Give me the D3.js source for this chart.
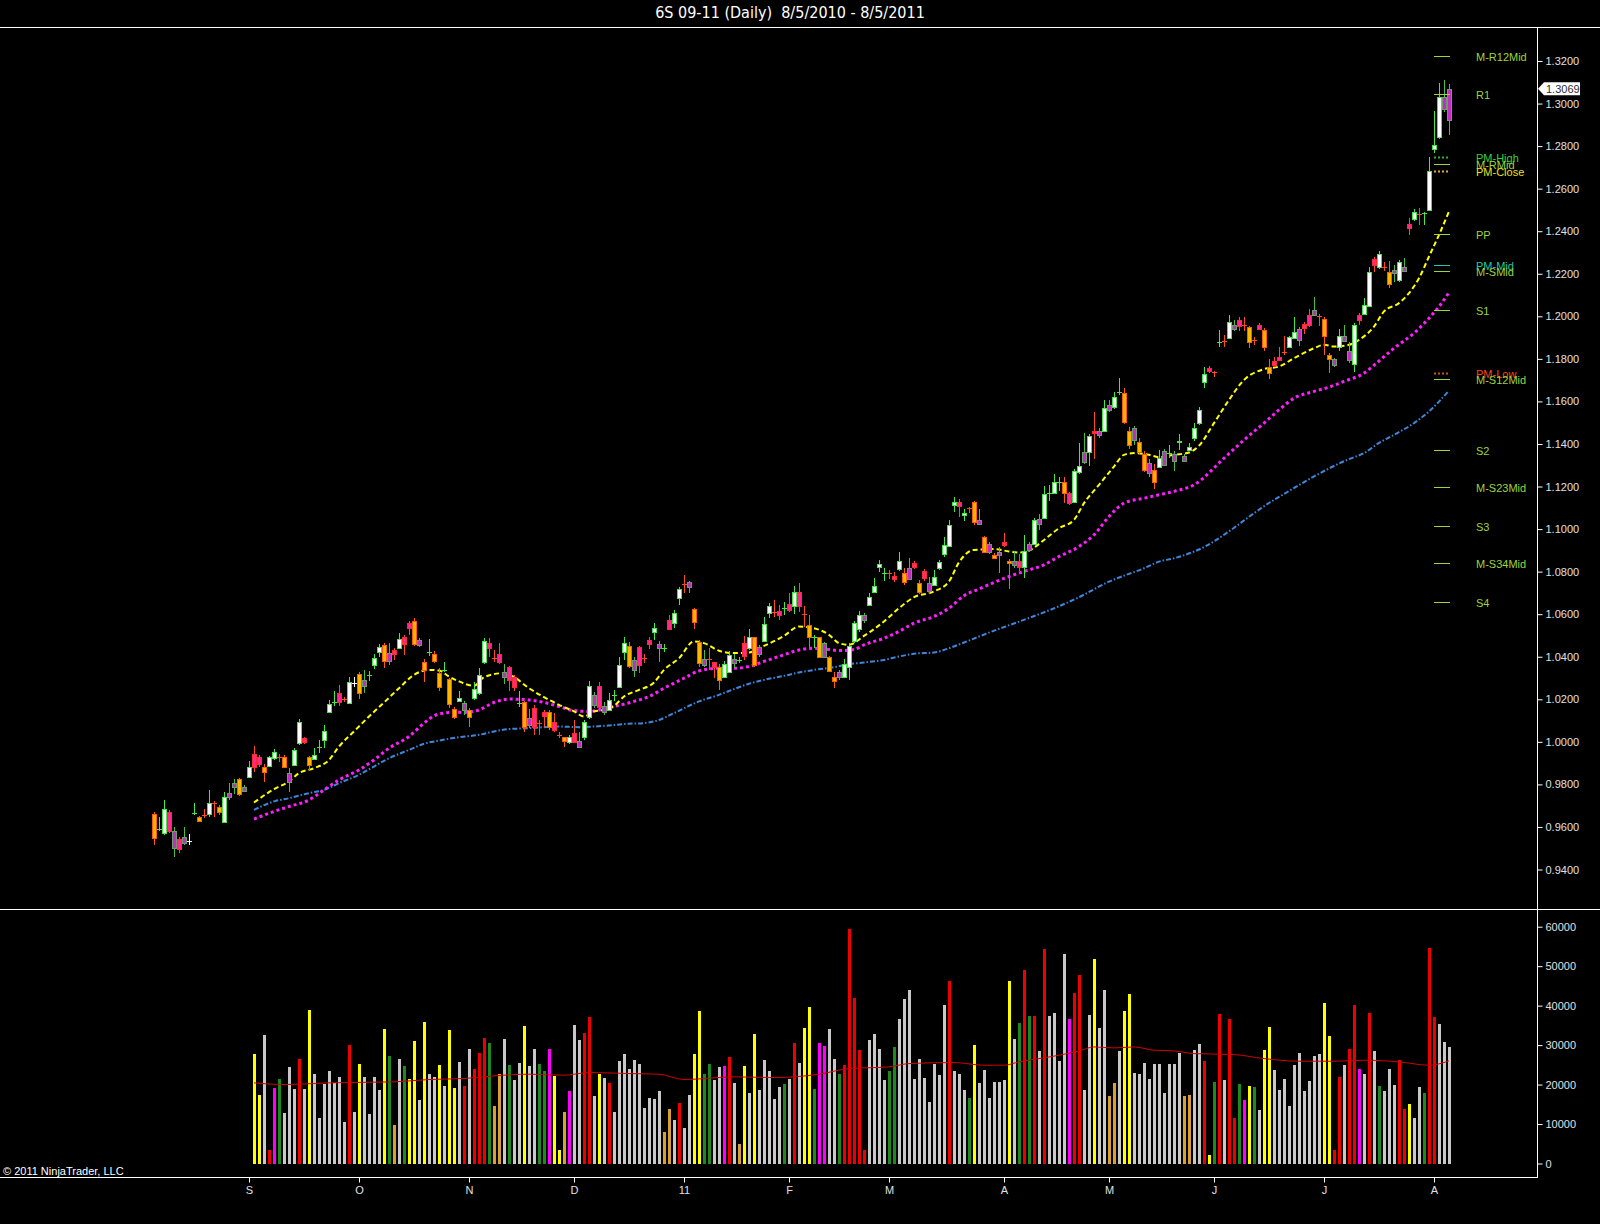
<!DOCTYPE html>
<html>
<head>
<meta charset="utf-8">
<title>6S 09-11 (Daily)</title>
<script src="https://cdn.jsdelivr.net/npm/d3@7"></script>
<style>
html, body { margin: 0; padding: 0; background: #000; }
svg { display: block; }
text { font-family: "Liberation Sans", Arial, sans-serif; }
</style>
</head>
<body>
<div id="viz"></div>
<script>
// ---- price bars (daily, 8/5/2010 .. 8/5/2011) ----
// kind: W up, O down, P pink, M magenta, G/R/X doji
var candleKind = [
  "OGWPMPMXGO", "RWROWMMOMW", "PPOWWROMWW", "POWGWWGPRW", "XOMGWWOMPW",
  "PPOMOGOOGO", "OWMOWWWPRP", "MPPGOMPRPO", "PROWPMWWMP", "MWGWWOMPRP",
  "WMGPWWRMOO", "MRPOWWMGPW", "OMWWRPGPWP", "ROGOMOOMWW", "WWMWWWGRPW",
  "OMPOPMWWWW", "WPWROMOMOM", "POMPWMWMWG", "WGOPWWMWPM", "WMWGOOMOOM",
  "OWMGMWMWWW", "WPRGRWMPRO", "RPOOPPRWWM", "PPMROOMWMM", "WPWWPWROMW",
  "MPWRGWWWMM"
].join("").split("");

var opens = [
  0.9660, 0.9590, 0.9571, 0.9670, 0.9501, 0.9543, 0.9524, 0.9534, 0.9665, 0.9646,
  0.9654, 0.9660, 0.9713, 0.9696, 0.9625, 0.9743, 0.9787, 0.9825, 0.9771, 0.9837,
  0.9944, 0.9931, 0.9881, 0.9887, 0.9923, 0.9928, 0.9931, 0.9813, 0.9890, 0.9994,
  1.0017, 0.9928, 0.9920, 0.9978, 1.0009, 1.0142, 1.0185, 1.0229, 1.0202, 1.0182,
  1.0276, 1.0318, 1.0263, 1.0312, 1.0362, 1.0420, 1.0456, 1.0378, 1.0432, 1.0443,
  1.0492, 1.0558, 1.0570, 1.0456, 1.0373, 1.0420, 1.0414, 1.0323, 1.0338, 1.0295,
  1.0154, 1.0191, 1.0149, 1.0149, 1.0205, 1.0229, 1.0374, 1.0464, 1.0396, 1.0412,
  1.0304, 1.0351, 1.0304, 1.0182, 1.0185, 1.0077, 1.0158, 1.0088, 1.0138, 1.0138,
  1.0093, 1.0030, 1.0022, 0.9997, 1.0041, 0.9978, 1.0025, 1.0116, 1.0174, 1.0263,
  1.0142, 1.0150, 1.0221, 1.0257, 1.0424, 1.0451, 1.0338, 1.0445, 1.0393, 1.0479,
  1.0518, 1.0443, 1.0443, 1.0573, 1.0558, 1.0675, 1.0743, 1.0730, 1.0624, 1.0467,
  1.0362, 1.0388, 1.0373, 1.0354, 1.0304, 1.0326, 1.0370, 1.0385, 1.0464, 1.0440,
  1.0492, 1.0414, 1.0476, 1.0605, 1.0612, 1.0615, 1.0630, 1.0649, 1.0637, 1.0706,
  1.0603, 1.0550, 1.0495, 1.0492, 1.0398, 1.0398, 1.0304, 1.0304, 1.0307, 1.0351,
  1.0476, 1.0530, 1.0574, 1.0644, 1.0706, 1.0824, 1.0793, 1.0793, 1.0781, 1.0812,
  1.0793, 1.0765, 1.0840, 1.0746, 1.0805, 1.0709, 1.0739, 1.0816, 1.0884, 1.0921,
  1.1114, 1.1125, 1.1066, 1.1097, 1.1125, 1.1025, 1.0962, 1.0894, 1.0879, 1.0877,
  1.0941, 1.0851, 1.0832, 1.0848, 1.0824, 1.0902, 1.0930, 1.1023, 1.1051, 1.1169,
  1.1171, 1.1219, 1.1219, 1.1171, 1.1128, 1.1266, 1.1313, 1.1360, 1.1463, 1.1443,
  1.1459, 1.1560, 1.1573, 1.1643, 1.1638, 1.1463, 1.1419, 1.1411, 1.1354, 1.1263,
  1.1278, 1.1291, 1.1302, 1.1357, 1.1318, 1.1409, 1.1318, 1.1373, 1.1427, 1.1498,
  1.1689, 1.1756, 1.1737, 1.1879, 1.1886, 1.1897, 1.1940, 1.1983, 1.1960, 1.1952,
  1.1889, 1.1960, 1.1936, 1.1761, 1.1792, 1.1811, 1.1830, 1.1855, 1.1897, 1.1889,
  1.1965, 1.2007, 1.2007, 1.2003, 1.1987, 1.1819, 1.1771, 1.1858, 1.1886, 1.1795,
  1.1777, 1.2007, 1.2012, 1.2050, 1.2269, 1.2231, 1.2231, 1.2206, 1.2203, 1.2171,
  1.2215, 1.2433, 1.2457, 1.2480, 1.2484, 1.2500, 1.2786, 1.2842, 1.2974, 1.2924
];

var highs = [
  0.9672, 0.9649, 0.9727, 0.9680, 0.9602, 0.9555, 0.9602, 0.9565, 0.9713, 0.9650,
  0.9683, 0.9775, 0.9724, 0.9704, 0.9763, 0.9806, 0.9825, 0.9830, 0.9798, 0.9908,
  0.9981, 0.9939, 0.9895, 0.9934, 0.9965, 0.9944, 0.9939, 0.9876, 0.9970, 1.0107,
  1.0025, 0.9934, 0.9973, 1.0009, 1.0080, 1.0197, 1.0240, 1.0266, 1.0213, 1.0307,
  1.0304, 1.0328, 1.0338, 1.0335, 1.0414, 1.0461, 1.0464, 1.0464, 1.0440, 1.0511,
  1.0503, 1.0566, 1.0581, 1.0487, 1.0389, 1.0483, 1.0425, 1.0346, 1.0373, 1.0299,
  1.0166, 1.0238, 1.0191, 1.0160, 1.0279, 1.0346, 1.0487, 1.0487, 1.0432, 1.0464,
  1.0366, 1.0357, 1.0315, 1.0237, 1.0190, 1.0154, 1.0174, 1.0103, 1.0150, 1.0150,
  1.0135, 1.0048, 1.0025, 1.0033, 1.0103, 1.0048, 1.0103, 1.0288, 1.0232, 1.0279,
  1.0185, 1.0229, 1.0245, 1.0398, 1.0495, 1.0471, 1.0401, 1.0451, 1.0414, 1.0492,
  1.0558, 1.0474, 1.0459, 1.0597, 1.0621, 1.0730, 1.0785, 1.0758, 1.0628, 1.0479,
  1.0432, 1.0440, 1.0377, 1.0366, 1.0378, 1.0425, 1.0412, 1.0401, 1.0498, 1.0530,
  1.0495, 1.0456, 1.0589, 1.0652, 1.0667, 1.0643, 1.0659, 1.0699, 1.0733, 1.0745,
  1.0637, 1.0595, 1.0503, 1.0495, 1.0467, 1.0404, 1.0329, 1.0338, 1.0389, 1.0464,
  1.0566, 1.0617, 1.0605, 1.0699, 1.0769, 1.0855, 1.0815, 1.0808, 1.0796, 1.0890,
  1.0815, 1.0862, 1.0848, 1.0762, 1.0812, 1.0774, 1.0808, 1.0855, 1.0965, 1.1043,
  1.1150, 1.1142, 1.1094, 1.1106, 1.1130, 1.1094, 1.0968, 1.0941, 1.0887, 1.0915,
  1.0980, 1.0859, 1.0899, 1.0884, 1.0973, 1.0941, 1.1051, 1.1072, 1.1203, 1.1207,
  1.1260, 1.1247, 1.1247, 1.1176, 1.1281, 1.1404, 1.1451, 1.1448, 1.1552, 1.1474,
  1.1607, 1.1607, 1.1646, 1.1709, 1.1662, 1.1482, 1.1485, 1.1427, 1.1369, 1.1329,
  1.1307, 1.1373, 1.1376, 1.1396, 1.1365, 1.1448, 1.1351, 1.1404, 1.1497, 1.1576,
  1.1764, 1.1767, 1.1745, 1.1936, 1.1911, 1.2007, 1.1981, 1.1996, 1.1996, 1.1955,
  1.1905, 1.1967, 1.1945, 1.1798, 1.1811, 1.1858, 1.1908, 1.1908, 1.1999, 1.1952,
  1.1971, 1.2034, 1.2093, 1.2012, 1.1999, 1.1827, 1.1806, 1.1939, 1.1960, 1.1881,
  1.1967, 1.2015, 1.2085, 1.2231, 1.2281, 1.2309, 1.2253, 1.2258, 1.2242, 1.2265,
  1.2273, 1.2461, 1.2503, 1.2508, 1.2492, 1.2748, 1.2965, 1.3096, 1.3111, 1.3093
];

var lows = [
  0.9516, 0.9579, 0.9563, 0.9571, 0.9461, 0.9477, 0.9516, 0.9516, 0.9656, 0.9624,
  0.9643, 0.9649, 0.9649, 0.9657, 0.9621, 0.9727, 0.9757, 0.9745, 0.9767, 0.9834,
  0.9860, 0.9884, 0.9809, 0.9884, 0.9915, 0.9903, 0.9876, 0.9766, 0.9886, 0.9986,
  0.9991, 0.9868, 0.9915, 0.9947, 0.9970, 1.0138, 1.0170, 1.0170, 1.0185, 1.0179,
  1.0260, 1.0201, 1.0229, 1.0284, 1.0341, 1.0398, 1.0346, 1.0362, 1.0387, 1.0436,
  1.0408, 1.0503, 1.0451, 1.0448, 1.0283, 1.0404, 1.0370, 1.0237, 1.0326, 1.0159,
  1.0107, 1.0186, 1.0127, 1.0072, 1.0197, 1.0221, 1.0366, 1.0401, 1.0373, 1.0366,
  1.0273, 1.0241, 1.0241, 1.0166, 1.0048, 1.0064, 1.0033, 1.0033, 1.0072, 1.0056,
  1.0048, 1.0017, 0.9978, 0.9991, 0.9994, 0.9970, 1.0009, 1.0107, 1.0158, 1.0150,
  1.0127, 1.0146, 1.0190, 1.0252, 1.0387, 1.0346, 1.0307, 1.0322, 1.0370, 1.0436,
  1.0479, 1.0373, 1.0420, 1.0524, 1.0534, 1.0644, 1.0700, 1.0700, 1.0530, 1.0351,
  1.0354, 1.0338, 1.0299, 1.0244, 1.0299, 1.0323, 1.0347, 1.0370, 1.0385, 1.0432,
  1.0354, 1.0401, 1.0471, 1.0582, 1.0589, 1.0573, 1.0597, 1.0612, 1.0603, 1.0612,
  1.0542, 1.0448, 1.0440, 1.0393, 1.0393, 1.0326, 1.0252, 1.0291, 1.0302, 1.0291,
  1.0464, 1.0518, 1.0558, 1.0639, 1.0699, 1.0800, 1.0754, 1.0764, 1.0750, 1.0805,
  1.0738, 1.0759, 1.0812, 1.0695, 1.0754, 1.0695, 1.0735, 1.0808, 1.0871, 1.0918,
  1.1082, 1.1056, 1.1036, 1.1075, 1.1020, 1.1020, 1.0887, 1.0881, 1.0858, 1.0793,
  1.0918, 1.0718, 1.0816, 1.0801, 1.0769, 1.0894, 1.0926, 1.0994, 1.1047, 1.1130,
  1.1167, 1.1177, 1.1122, 1.1113, 1.1124, 1.1260, 1.1307, 1.1297, 1.1329, 1.1428,
  1.1454, 1.1552, 1.1564, 1.1631, 1.1496, 1.1376, 1.1396, 1.1354, 1.1266, 1.1244,
  1.1188, 1.1286, 1.1297, 1.1335, 1.1271, 1.1373, 1.1313, 1.1369, 1.1412, 1.1490,
  1.1662, 1.1733, 1.1717, 1.1858, 1.1858, 1.1893, 1.1929, 1.1929, 1.1932, 1.1850,
  1.1866, 1.1934, 1.1835, 1.1705, 1.1761, 1.1788, 1.1819, 1.1850, 1.1893, 1.1861,
  1.1917, 1.1952, 1.2003, 1.1955, 1.1819, 1.1733, 1.1764, 1.1835, 1.1877, 1.1780,
  1.1740, 1.1960, 1.2007, 1.2044, 1.2206, 1.2221, 1.2215, 1.2133, 1.2163, 1.2163,
  1.2210, 1.2383, 1.2446, 1.2430, 1.2430, 1.2497, 1.2768, 1.2833, 1.2959, 1.2853
];

var closes = [
  0.9547, 0.9590, 0.9684, 0.9579, 0.9579, 0.9496, 0.9555, 0.9534, 0.9665, 0.9630,
  0.9654, 0.9712, 0.9713, 0.9672, 0.9740, 0.9759, 0.9806, 0.9757, 0.9787, 0.9884,
  0.9884, 0.9897, 0.9860, 0.9928, 0.9950, 0.9928, 0.9884, 0.9853, 0.9962, 1.0093,
  0.9997, 0.9890, 0.9939, 0.9978, 1.0053, 1.0177, 1.0185, 1.0185, 1.0202, 1.0279,
  1.0276, 1.0229, 1.0291, 1.0312, 1.0393, 1.0445, 1.0382, 1.0417, 1.0414, 1.0483,
  1.0459, 1.0534, 1.0461, 1.0479, 1.0338, 1.0420, 1.0382, 1.0257, 1.0338, 1.0179,
  1.0119, 1.0207, 1.0183, 1.0117, 1.0248, 1.0315, 1.0475, 1.0440, 1.0396, 1.0373,
  1.0328, 1.0291, 1.0260, 1.0182, 1.0072, 1.0114, 1.0069, 1.0088, 1.0122, 1.0069,
  1.0056, 1.0030, 1.0006, 1.0025, 0.9997, 1.0002, 1.0093, 1.0263, 1.0221, 1.0163,
  1.0169, 1.0197, 1.0221, 1.0362, 1.0464, 1.0357, 1.0385, 1.0362, 1.0393, 1.0461,
  1.0534, 1.0459, 1.0443, 1.0530, 1.0605, 1.0719, 1.0743, 1.0751, 1.0561, 1.0370,
  1.0388, 1.0388, 1.0354, 1.0291, 1.0367, 1.0409, 1.0389, 1.0385, 1.0404, 1.0495,
  1.0362, 1.0448, 1.0555, 1.0639, 1.0612, 1.0597, 1.0630, 1.0621, 1.0706, 1.0637,
  1.0603, 1.0492, 1.0495, 1.0401, 1.0464, 1.0335, 1.0288, 1.0326, 1.0365, 1.0451,
  1.0558, 1.0597, 1.0597, 1.0683, 1.0733, 1.0835, 1.0793, 1.0793, 1.0765, 1.0851,
  1.0749, 1.0815, 1.0821, 1.0706, 1.0770, 1.0746, 1.0777, 1.0847, 1.0926, 1.1020,
  1.1125, 1.1110, 1.1075, 1.1097, 1.1031, 1.1043, 1.0894, 1.0929, 1.0863, 1.0893,
  1.0926, 1.0841, 1.0851, 1.0821, 1.0899, 1.0929, 1.1043, 1.1047, 1.1166, 1.1169,
  1.1219, 1.1219, 1.1169, 1.1124, 1.1275, 1.1297, 1.1360, 1.1438, 1.1451, 1.1463,
  1.1568, 1.1583, 1.1623, 1.1643, 1.1501, 1.1396, 1.1474, 1.1360, 1.1278, 1.1310,
  1.1223, 1.1333, 1.1369, 1.1357, 1.1354, 1.1416, 1.1343, 1.1385, 1.1474, 1.1560,
  1.1730, 1.1741, 1.1737, 1.1879, 1.1886, 1.1971, 1.1960, 1.1955, 1.1960, 1.1881,
  1.1889, 1.1940, 1.1855, 1.1733, 1.1771, 1.1795, 1.1830, 1.1905, 1.1928, 1.1940,
  1.1945, 1.1960, 1.2031, 1.2003, 1.1908, 1.1798, 1.1798, 1.1908, 1.1908, 1.1839,
  1.1960, 1.1983, 1.2054, 1.2206, 1.2242, 1.2294, 1.2231, 1.2153, 1.2218, 1.2257,
  1.2231, 1.2414, 1.2492, 1.2480, 1.2484, 1.2685, 1.2803, 1.3033, 1.3030, 1.3069
];

// ---- moving averages (bar index, value) ----
var fastMaBars = [20,24,27,29,32,35,37,40,43,46,49,52,55,57,59,61,64,66,70,72,75,78,81,84,86,88,90,92,94,97,
  100,102,105,108,110,113,116,119,122,126,129,132,135,137,139,142,146,149,152,156,159,161,164,168,171,173,175,178,181,184,
  186,189,192,194,196,199,201,204,207,209,212,215,218,222,225,228,232,234,236,239,241,244,246,249,251,253,255,257,259];
var fastMa = [0.9715,0.9778,0.9814,0.9853,0.9876,0.9915,0.9978,1.0049,1.0119,1.0185,1.0252,1.0315,1.0338,1.0335,1.0307,1.0284,1.0263,1.0304,1.0323,1.0304,
  1.0252,1.0210,1.0174,1.0143,1.0119,1.0143,1.0150,1.0169,1.0213,1.0244,1.0279,1.0338,1.0393,1.0472,1.0464,1.0428,1.0417,1.0420,1.0451,1.0498,
  1.0542,1.0534,1.0503,1.0464,1.0456,1.0498,1.0566,1.0628,1.0680,1.0707,1.0754,1.0844,1.0902,1.0906,1.0895,1.0890,1.0899,1.0949,1.1004,1.1043,
  1.1122,1.1208,1.1294,1.1349,1.1357,1.1349,1.1338,1.1349,1.1360,1.1392,1.1498,1.1607,1.1701,1.1752,1.1764,1.1803,1.1850,1.1866,1.1858,1.1866,
  1.1889,1.1952,1.2023,1.2062,1.2109,1.2179,1.2281,1.2383,1.2493];

var midMaBars = [20,24,27,31,34,37,41,44,47,51,54,56,58,60,62,65,68,71,75,78,81,84,87,89,92,96,99,102,106,109,
  113,116,119,122,126,129,132,135,137,140,142,146,149,152,156,159,162,165,168,171,174,178,181,185,188,191,194,198,201,204,
  208,214,218,222,225,228,232,235,238,242,245,248,252,255,257,259];
var midMa = [0.9637,0.9673,0.9696,0.9727,0.9774,0.9821,0.9868,0.9915,0.9970,1.0025,1.0088,1.0122,1.0135,1.0139,1.0138,1.0150,1.0185,1.0201,1.0197,1.0185,
  1.0166,1.0147,1.0143,1.0150,1.0166,1.0190,1.0213,1.0252,1.0299,1.0333,1.0346,1.0346,1.0354,1.0378,1.0409,1.0432,1.0440,1.0434,1.0429,1.0434,
  1.0456,1.0487,1.0519,1.0558,1.0589,1.0628,1.0687,1.0718,1.0749,1.0777,1.0801,1.0832,1.0871,1.0918,1.0973,1.1059,1.1122,1.1145,1.1161,1.1177,
  1.1208,1.1333,1.1419,1.1498,1.1560,1.1615,1.1647,1.1667,1.1694,1.1733,1.1790,1.1850,1.1921,1.1991,1.2046,1.2112];

var slowMaBars = [20,24,27,31,34,37,41,44,47,51,54,57,61,65,68,71,75,78,81,85,88,91,95,98,101,104,109,113,116,119,
  122,126,129,132,136,139,142,146,149,152,156,159,162,165,185,191,198,201,204,208,224,239,242,245,248,252,255,259];
var slowMa = [0.9680,0.9720,0.9735,0.9759,0.9774,0.9806,0.9845,0.9884,0.9923,0.9962,0.9991,1.0006,1.0022,1.0033,1.0049,1.0060,1.0064,1.0069,1.0072,1.0069,
  1.0072,1.0077,1.0085,1.0088,1.0103,1.0135,1.0190,1.0221,1.0248,1.0273,1.0291,1.0310,1.0326,1.0338,1.0351,1.0365,1.0373,1.0385,1.0401,1.0414,
  1.0420,1.0440,1.0467,1.0495,1.0680,1.0753,1.0816,1.0847,1.0863,1.0894,1.1137,1.1329,1.1357,1.1405,1.1443,1.1498,1.1553,1.1651];

// ---- volume (from bar 20) ----
var volumeStart = 20;
var volumes = [
  27682, 17317, 32485, 3413, 19010, 21286, 12842, 24471, 18834, 26594,
  18834, 38805, 22802, 11427, 20098, 23384, 20426, 21943, 10567, 29957,
  13095, 25154, 21943, 12514, 21943, 18581, 34002, 27176, 9733, 26594,
  24648, 21362, 31044, 16053, 35771, 22626, 21943, 24901, 19592, 33749,
  19010, 25659, 19592, 28946, 23890, 28111, 31802, 30639, 14536, 22802,
  31474, 24901, 21109, 25482, 34760, 24733, 28946, 25154, 23384, 28946,
  22120, 3413, 13019, 18328, 35013, 31221, 33075, 37111, 17064, 22802,
  21538, 20426, 13095, 25912, 27682, 23890, 26165, 25154, 13946, 16474,
  16221, 18328, 8047, 13778, 10997, 15210, 8890, 17317, 27850, 38552,
  22626, 25154, 21109, 24480, 24648, 27007, 20519, 4930, 24648, 17907,
  32738, 18581, 26165, 23384, 16306, 19423, 20098, 21362, 30631, 25575,
  34339, 39648, 18834, 30631, 29788, 34002, 26418, 22794, 24901, 59450,
  42007, 28693, 3413, 31221, 32738, 28946, 21109, 23384, 29535, 36530,
  41754, 44030, 21362, 26587, 21698, 15631, 25154, 22373, 40069, 46136,
  23384, 22626, 18750, 16474, 29957, 20434, 23806, 16474, 20687, 20687,
  21109, 46136, 31474, 35688, 48917, 37288, 37288, 28440, 54226, 37288,
  38216, 25912, 53131, 36530, 43272, 47653, 18581, 37541, 51698, 34339,
  44030, 17064, 20519, 28440, 38552, 42850, 23048, 22626, 25575, 21531,
  25154, 25154, 17907, 25154, 25154, 28103, 17064, 17317, 28862, 30210,
  25912, 2149, 20527, 37971, 21109, 36706, 11427, 20021, 16053, 19592,
  19263, 13525, 28870, 34583, 23814, 18581, 21362, 14536, 24901, 28111,
  18328, 20856, 27176, 27682, 40751, 32232, 3413, 21791, 24901, 28946,
  40069, 24066, 22626, 38223, 28440, 19592, 18328, 24066, 19845, 26342,
  13778, 15042, 11578, 19415, 17898, 54655, 37111, 35266, 30791, 29526
];
// Y yellow, g gray, R red, G green, M magenta, T tan
var volumeKind = [
  "YYgRMGgggR", "gYgggggggR", "gYggggYGTg", "GYYgYggYgY", "YgRgRRRGTT",
  "gGggYggGGM", "YYTMggRRgY", "gRgggggggg", "ggTTgRggYY", "GGggMRgTYg",
  "YgggggGgRg", "YYGMMggGRR", "RRRggggGGg", "gggggggggR", "gggGYggggg",
  "gYgGRGRgRg", "gggMRRggYg", "gTTgYYgggg", "ggggggTTgg", "RYGRgRRGMY",
  "GgYYgggggg", "ggggYYRRgR", "RMgRgGgggR", "RYggGRRggg"
].join("").split("");

var volMaBars = [20,26,35,48,55,62,68,75,82,87,95,101,106,116,124,133,139,147,151,160,
  166,170,173,177,181,185,188,192,196,200,204,208,216,222,229,236,242,249,255,259];
var volMa = [20434,20013,20434,20687,21277,21531,22204,22626,22373,23048,22795,22626,21277,21951,21783,22626,24059,24480,25322,25575,
  24901,24901,25744,26587,27429,28524,29535,29282,29535,28693,28524,27850,27597,26587,25912,25912,26165,25744,24901,25996];

// ---- pivots ----
var pivotNames = ["M-R12Mid", "R1", "PM-High", "M-RMid", "PM-Close", "PP", "PM-Mid", "M-SMid",
  "S1", "PM-Low", "M-S12Mid", "S2", "M-S23Mid", "S3", "M-S34Mid", "S4"];
var pivotValues = [1.3223, 1.3044, 1.2747, 1.2714, 1.2684, 1.2388, 1.2241, 1.2214,
  1.2031, 1.1732, 1.1704, 1.1374, 1.1196, 1.1016, 1.0839, 1.0659];
var pivotKind = ["mid", "piv", "pmHigh", "mid", "pmClose", "piv", "pmMid", "mid",
  "piv", "pmLow", "mid", "piv", "mid", "piv", "mid", "piv"];

// ---- axes ----
var priceTicks = [0.94, 0.96, 0.98, 1.00, 1.02, 1.04, 1.06, 1.08, 1.10, 1.12,
  1.14, 1.16, 1.18, 1.20, 1.22, 1.24, 1.26, 1.28, 1.30, 1.32];
var volumeTicks = [0, 10000, 20000, 30000, 40000, 50000, 60000];
var monthBars = [19, 41, 63, 84, 106, 127, 147, 170, 191, 212, 234, 256];
var monthLabels = ["S", "O", "N", "D", "11", "F", "M", "A", "M", "J", "J", "A"];

var lastPrice = 1.3069;

// ---------------------------------------------------------------
var W = 1600, H = 1224;
var axisX = 1537.5;

var svg = d3.select('#viz').append('svg')
  .attr('width', W)
  .attr('height', H)
  .style('background', '#000');

var x = d3.scaleLinear().domain([0, 259]).range([154, 1449]);
var y = d3.scaleLinear().domain([0.94, 1.32]).range([869.5, 61]);
var yv = d3.scaleLinear().domain([0, 60000]).range([1163.5, 926.7]);

var candleStyle = {
  W: {fill: '#ffffff', edge: '#44e844', wick: '#44e844'},
  O: {fill: '#ffb400', edge: '#ff5a10', wick: '#ff5a10'},
  P: {fill: '#ff2a8c', edge: '#ff2a2a', wick: '#ff4a1e'},
  M: {fill: '#c030c0', edge: '#6c9c6c', wick: '#40c040'},
  G: {fill: '#44e844', edge: '#44e844', wick: '#44e844'},
  R: {fill: '#ff4a1e', edge: '#ff4a1e', wick: '#ff4a1e'},
  X: {fill: '#ffffff', edge: '#ffffff', wick: '#ffffff'}
};
var volumeColor = {Y: '#ffff00', g: '#c8c8c8', R: '#ee0000', G: '#1e8a1e', M: '#ff00ff', T: '#d8a030'};
var pivotStyle = {
  mid:     {line: '#9cd43c', text: '#9cd43c', dash: null},
  piv:     {line: '#9cd43c', text: '#9cd43c', dash: null},
  pmHigh:  {line: '#2fb42f', text: '#38d038', dash: '2,2'},
  pmClose: {line: '#d8b030', text: '#e8e020', dash: '2,2'},
  pmMid:   {line: '#20c8a0', text: '#20c8a0', dash: null},
  pmLow:   {line: '#d05020', text: '#ff4020', dash: '2,2'}
};

// title
svg.append('text')
  .attr('x', 790)
  .attr('y', 18)
  .attr('text-anchor', 'middle')
  .style('white-space', 'pre')
  .style('font-family', '"Liberation Sans Narrow", "Arial Narrow", "DejaVu Sans Condensed", sans-serif')
  .style('font-size', '16px')
  .attr('fill', '#ffffff')
  .text('6S 09-11 (Daily)  8/5/2010 - 8/5/2011');

// frame lines
var frame = svg.append('g').attr('stroke', '#ffffff').attr('stroke-width', 1).attr('shape-rendering', 'crispEdges');
frame.append('line').attr('x1', 0).attr('x2', W).attr('y1', 27.5).attr('y2', 27.5);
frame.append('line').attr('x1', 0).attr('x2', W).attr('y1', 909.5).attr('y2', 909.5);
frame.append('line').attr('x1', 0).attr('x2', axisX).attr('y1', 1177.5).attr('y2', 1177.5);
frame.append('line').attr('x1', axisX).attr('x2', axisX).attr('y1', 27.5).attr('y2', 1177.5);

// moving averages
var maLine = d3.line()
  .x(function(d) { return x(d[0]); })
  .y(function(d) { return y(d[1]); })
  .curve(d3.curveMonotoneX);

function pairs(bars, vals) {
  return bars.map(function(b, k) { return [b, vals[k]]; });
}

var maG = svg.append('g').attr('fill', 'none');
maG.append('path')
  .attr('d', maLine(pairs(slowMaBars, slowMa)))
  .attr('stroke', '#3d86dc')
  .attr('stroke-width', 2)
  .attr('stroke-dasharray', '5,2,1.5,2');
maG.append('path')
  .attr('d', maLine(pairs(midMaBars, midMa)))
  .attr('stroke', '#ff1eff')
  .attr('stroke-width', 3)
  .attr('stroke-dasharray', '3,3');
maG.append('path')
  .attr('d', maLine(pairs(fastMaBars, fastMa)))
  .attr('stroke', '#ffff00')
  .attr('stroke-width', 2)
  .attr('stroke-dasharray', '5,3');

// candles
var cg = svg.append('g').attr('shape-rendering', 'crispEdges');
closes.forEach(function(c, i) {
  var st = candleStyle[candleKind[i]];
  var cx = Math.round(x(i));
  var yh = Math.round(y(highs[i])), yl = Math.round(y(lows[i]));
  var top = Math.round(y(Math.max(opens[i], c)));
  var bot = Math.round(y(Math.min(opens[i], c)));
  cg.append('rect')
    .attr('x', cx).attr('width', 1)
    .attr('y', yh).attr('height', Math.max(1, yl - yh))
    .attr('fill', st.wick);
  if (bot - top < 2) {
    cg.append('rect')
      .attr('x', cx - 2).attr('width', 5)
      .attr('y', top).attr('height', Math.max(1, bot - top + 1))
      .attr('fill', st.edge);
  } else {
    cg.append('rect')
      .attr('x', cx - 2).attr('width', 5)
      .attr('y', top).attr('height', bot - top + 1)
      .attr('fill', st.edge);
    cg.append('rect')
      .attr('x', cx - 1).attr('width', 3)
      .attr('y', top + 1).attr('height', bot - top - 1)
      .attr('fill', st.fill);
  }
});

// pivot levels
var pg = svg.append('g');
pivotValues.forEach(function(v, k) {
  var st = pivotStyle[pivotKind[k]];
  var py = Math.round(y(v)) + 0.5;
  var ln = pg.append('line')
    .attr('x1', x(256)).attr('x2', x(259) + 1)
    .attr('y1', py).attr('y2', py)
    .attr('stroke', st.line)
    .attr('stroke-width', st.dash ? 2 : 1);
  if (st.dash) ln.attr('stroke-dasharray', st.dash);
  pg.append('text')
    .attr('x', 1476)
    .attr('y', py + 4)
    .attr('fill', st.text)
    .style('font-size', '11px')
    .text(pivotNames[k]);
});

// volume bars
var vg = svg.append('g').attr('shape-rendering', 'crispEdges');
volumes.forEach(function(v, k) {
  var i = volumeStart + k;
  var cx = Math.round(x(i));
  vg.append('rect')
    .attr('x', cx - 1).attr('width', 3)
    .attr('y', yv(v)).attr('height', yv(0) - yv(v))
    .attr('fill', volumeColor[volumeKind[k]]);
});

var volLine = d3.line()
  .x(function(d) { return x(d[0]); })
  .y(function(d) { return yv(d[1]); })
  .curve(d3.curveMonotoneX);
svg.append('path')
  .attr('d', volLine(pairs(volMaBars, volMa)))
  .attr('fill', 'none')
  .attr('stroke', '#d00000')
  .attr('stroke-width', 1);

// axes
function styleAxis(g) {
  g.select('.domain').remove();
  g.selectAll('line').attr('stroke', '#ffffff');
  g.selectAll('text')
    .attr('fill', '#e0e0e0')
    .style('font-family', '"Liberation Sans", Arial, sans-serif')
    .style('font-size', '11px');
}

svg.append('g')
  .attr('transform', 'translate(' + axisX + ',0)')
  .call(d3.axisRight(y).tickValues(priceTicks).tickSize(5).tickPadding(3).tickFormat(d3.format('.4f')))
  .call(styleAxis);

svg.append('g')
  .attr('transform', 'translate(' + axisX + ',0)')
  .call(d3.axisRight(yv).tickValues(volumeTicks).tickSize(5).tickPadding(3).tickFormat(d3.format('d')))
  .call(styleAxis);

svg.append('g')
  .attr('transform', 'translate(0,1177.5)')
  .call(d3.axisBottom(x).tickValues(monthBars).tickSize(5).tickPadding(4)
    .tickFormat(function(d, k) { return monthLabels[k]; }))
  .call(styleAxis);

// last price marker
var ly = y(lastPrice);
svg.append('path')
  .attr('d', 'M' + (axisX + 0.5) + ',' + ly + 'L' + (axisX + 6.5) + ',' + (ly - 6.5) +
    'L1580,' + (ly - 6.5) + 'L1580,' + (ly + 6.5) + 'L' + (axisX + 6.5) + ',' + (ly + 6.5) + 'Z')
  .attr('fill', '#ffffff');
svg.append('text')
  .attr('x', 1546)
  .attr('y', ly + 4)
  .attr('fill', '#303030')
  .style('font-size', '11px')
  .text(d3.format('.4f')(lastPrice));

// copyright
svg.append('text')
  .attr('x', 3)
  .attr('y', 1175)
  .attr('fill', '#ffffff')
  .style('font-size', '11px')
  .text('\u00a9 2011 NinjaTrader, LLC');
</script>
</body>
</html>
